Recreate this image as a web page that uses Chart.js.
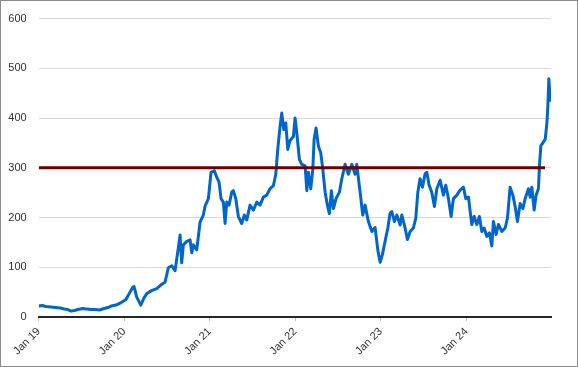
<!DOCTYPE html>
<html>
<head>
<meta charset="utf-8">
<script src="https://cdn.jsdelivr.net/npm/chart.js@4.4.1/dist/chart.umd.min.js"></script>
<style>
  html, body { margin: 0; padding: 0; background: #fff; }
  canvas { display: block; }
</style>
</head>
<body>
<canvas id="myChart" width="578" height="367"></canvas>
<script>
// decimal years
var years = [
  2019.000, 2019.040, 2019.085, 2019.140, 2019.200, 2019.250, 2019.300, 2019.340, 2019.378, 2019.417,
  2019.460, 2019.515, 2019.560, 2019.612, 2019.660, 2019.710, 2019.768, 2019.810, 2019.846, 2019.905,
  2019.963, 2020.020, 2020.068, 2020.100, 2020.115, 2020.146, 2020.170, 2020.193, 2020.230, 2020.263,
  2020.320, 2020.380, 2020.440, 2020.477, 2020.516, 2020.556, 2020.594, 2020.633, 2020.653, 2020.672,
  2020.691, 2020.731, 2020.770, 2020.790, 2020.808, 2020.848, 2020.887, 2020.925, 2020.945, 2020.984,
  2021.015, 2021.054, 2021.082, 2021.109, 2021.132, 2021.159, 2021.179, 2021.199, 2021.226, 2021.257,
  2021.276, 2021.304, 2021.335, 2021.374, 2021.405, 2021.433, 2021.471, 2021.510, 2021.550, 2021.588,
  2021.627, 2021.667, 2021.705, 2021.744, 2021.772, 2021.795, 2021.822, 2021.842, 2021.865, 2021.889,
  2021.912, 2021.939, 2021.978, 2021.998, 2022.018, 2022.048, 2022.076, 2022.115, 2022.135, 2022.153,
  2022.181, 2022.205, 2022.220, 2022.243, 2022.270, 2022.298, 2022.322, 2022.349, 2022.375, 2022.399,
  2022.422, 2022.446, 2022.477, 2022.516, 2022.544, 2022.582, 2022.621, 2022.661, 2022.699, 2022.719,
  2022.758, 2022.789, 2022.816, 2022.855, 2022.895, 2022.933, 2022.965, 2022.992, 2023.019, 2023.050,
  2023.082, 2023.109, 2023.129, 2023.159, 2023.187, 2023.226, 2023.246, 2023.284, 2023.311, 2023.343,
  2023.381, 2023.409, 2023.433, 2023.459, 2023.487, 2023.518, 2023.538, 2023.565, 2023.596, 2023.627,
  2023.655, 2023.694, 2023.732, 2023.760, 2023.791, 2023.822, 2023.849, 2023.889, 2023.927, 2023.966,
  2023.994, 2024.025, 2024.045, 2024.064, 2024.091, 2024.123, 2024.153, 2024.181, 2024.208, 2024.240,
  2024.270, 2024.298, 2024.317, 2024.348, 2024.375, 2024.415, 2024.454, 2024.481, 2024.512, 2024.544,
  2024.571, 2024.598, 2024.629, 2024.661, 2024.688, 2024.726, 2024.746, 2024.766, 2024.793, 2024.816,
  2024.843, 2024.855, 2024.871, 2024.895, 2024.922, 2024.942, 2024.953, 2024.965, 2024.980, 2024.988
];

var prices = [
  22, 23, 21, 20, 19, 18, 16, 15, 12, 13,
  15, 17, 16, 15, 15, 14, 17, 19, 22, 24,
  29, 35, 50, 60, 61, 40, 32, 24, 38, 47,
  53, 57, 66, 70, 99, 103, 93, 139, 165, 109,
  145, 152, 155, 129, 145, 135, 191, 205, 223, 238,
  291, 294, 281, 271, 238, 231, 188, 231, 225, 251,
  254, 238, 202, 188, 205, 195, 225, 215, 231, 225,
  241, 245, 258, 264, 287, 337, 383, 410, 377, 390,
  337, 355, 363, 400, 370, 317, 307, 304, 254, 291,
  258, 297, 357, 380, 344, 330, 297, 251, 225, 208,
  254, 218, 238, 251, 278, 307, 287, 307, 287, 307,
  251, 205, 225, 192, 172, 180, 135, 110, 126, 152,
  179, 209, 212, 192, 205, 185, 205, 179, 156, 172,
  179, 199, 251, 278, 261, 288, 291, 265, 251, 222,
  258, 275, 245, 265, 238, 202, 238, 245, 255, 261,
  238, 241, 212, 186, 202, 186, 202, 172, 179, 162,
  169, 143, 192, 166, 186, 172, 179, 199, 261, 245,
  222, 192, 228, 218, 238, 258, 241, 261, 215, 245,
  258, 304, 344, 350, 357, 390, 423, 479, 436, 456
];

var thresholdValue = 300;
var thresholdSpan = [2019.0, 2024.92];

var tickLabels = ['Jan 19', 'Jan 20', 'Jan 21', 'Jan 22', 'Jan 23', 'Jan 24'];
var firstYear = 2019;

var priceData = [];
for (var i = 0; i < years.length; i++) {
  priceData.push({x: years[i], y: prices[i]});
}
var thresholdData = [
  {x: thresholdSpan[0], y: thresholdValue},
  {x: thresholdSpan[1], y: thresholdValue}
];

// white background and the thin grey frame round the chart
var framePlugin = {
  id: 'frame',
  beforeDraw: function(chart) {
    var ctx = chart.ctx;
    ctx.save();
    ctx.fillStyle = '#ffffff';
    ctx.fillRect(0, 0, chart.width, chart.height);
    ctx.restore();
  },
  afterDraw: function(chart) {
    var ctx = chart.ctx;
    ctx.save();
    ctx.strokeStyle = '#8c8c8c';
    ctx.lineWidth = 1;
    ctx.strokeRect(0.5, 0.5, chart.width - 1, chart.height - 1);
    ctx.restore();
  }
};

var axisFont = { family: "'Liberation Sans', Arial, sans-serif", size: 11 };

window.onload = function() {
  var ctx = document.getElementById('myChart').getContext('2d');
  new Chart(ctx, {
    type: 'line',
    data: {
      datasets: [
        {
          label: 'Threshold',
          data: thresholdData,
          borderColor: '#6b0000',
          borderWidth: 3,
          pointRadius: 0,
          order: 0
        },
        {
          label: 'Price',
          data: priceData,
          borderColor: '#0066cc',
          borderWidth: 3,
          pointRadius: 0,
          tension: 0,
          borderJoinStyle: 'round',
          order: 1
        }
      ]
    },
    options: {
      responsive: false,
      animation: false,
      devicePixelRatio: 1,
      layout: {
        autoPadding: false,
        padding: { left: 0, top: 14, right: 27, bottom: 0 }
      },
      plugins: {
        legend: { display: false },
        tooltip: { enabled: false }
      },
      scales: {
        x: {
          type: 'linear',
          min: 2019,
          max: 2024.99,
          afterFit: function(scale) { scale.height = 50; },
          border: { display: true, color: '#262626', width: 2 },
          grid: {
            drawOnChartArea: false,
            drawTicks: true,
            tickLength: 4,
            color: '#bfbfbf'
          },
          ticks: {
            stepSize: 1,
            includeBounds: false,
            autoSkip: false,
            maxRotation: 45,
            minRotation: 45,
            padding: 4,
            color: '#333333',
            font: axisFont,
            callback: function(value) {
              var label = tickLabels[Math.round(value) - firstYear];
              return label || '';
            }
          }
        },
        y: {
          min: 0,
          max: 600,
          afterFit: function(scale) { scale.width = 38.7; },
          border: { display: false },
          grid: {
            color: '#d9d9d9',
            lineWidth: 1,
            drawTicks: false
          },
          ticks: {
            stepSize: 100,
            padding: 12,
            color: '#333333',
            font: axisFont
          }
        }
      }
    },
    plugins: [framePlugin]
  });
};
</script>
</body>
</html>
